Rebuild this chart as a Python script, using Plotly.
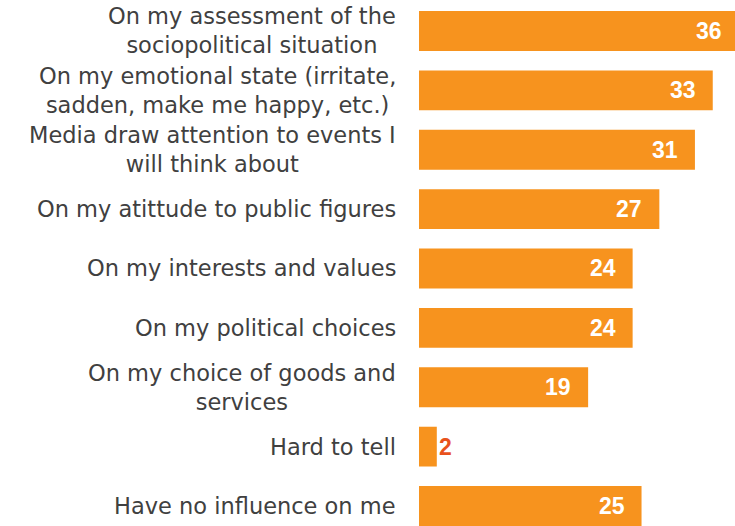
import plotly.graph_objects as go

# Survey answers: where media influence is felt (percent of respondents)
labels = [
    "On my assessment of the<br>sociopolitical situation",
    "On my emotional state (irritate,<br>sadden, make me happy, etc.)",
    "Media draw attention to events I<br>will think about",
    "On my atittude to public figures",
    "On my interests and values",
    "On my political choices",
    "On my choice of goods and<br>services",
    "Hard to tell",
    "Have no influence on me",
]
values = [36, 33, 31, 27, 24, 24, 19, 2, 25]

BAR = "#F7931E"
TEXT = "#404040"
SMALL_LABEL = "#E8521C"
XMAX = 35.5

pos = list(range(len(labels)))

fig = go.Figure(
    go.Bar(
        x=values,
        y=pos,
        orientation="h",
        marker=dict(color=BAR, line=dict(width=0)),
        width=0.67,
        hoverinfo="skip",
    )
)

annotations = []
for i, (lab, v) in enumerate(zip(labels, values)):
    annotations.append(dict(
        x=0, xref="paper", y=i, yref="y",
        text=lab, showarrow=False,
        xanchor="right", yanchor="middle", align="center", xshift=-21,
        font=dict(family="DejaVu Sans", size=22.5, color=TEXT),
    ))
    inside = v >= 5
    annotations.append(dict(
        x=v / XMAX, xref="paper", y=i, yref="y",
        text=f"<b>{v}</b>", showarrow=False,
        xanchor="right" if inside else "left", yanchor="middle",
        xshift=-15 if inside else 0,
        font=dict(family="Liberation Sans", size=23,
                  color="white" if inside else SMALL_LABEL),
    ))

fig.update_layout(
    width=735, height=526,
    margin=dict(l=419, r=0, t=0, b=0),
    paper_bgcolor="white", plot_bgcolor="white",
    showlegend=False,
    xaxis=dict(range=[0, XMAX], visible=False, fixedrange=True),
    yaxis=dict(range=[8.337, -0.522], visible=False, fixedrange=True),
    annotations=annotations,
)

fig.write_html("out.html")
